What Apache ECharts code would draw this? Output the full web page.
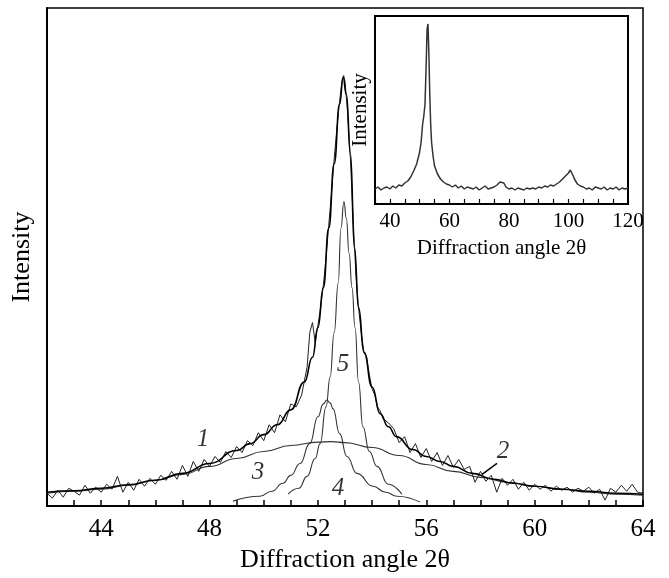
<!DOCTYPE html>
<html>
<head>
<meta charset="utf-8">
<title>Diffraction profile</title>
<script src="https://cdn.jsdelivr.net/npm/echarts@6/dist/echarts.min.js"></script>
<style>
html, body { margin: 0; padding: 0; background: #fff; }
#chart { width: 669px; height: 578px; }
</style>
</head>
<body>
<div id="chart"></div>
<script>
// measured profile (curve 1)
var expAngle = [
  42.0,42.2,42.4,42.6,42.8,43.0,43.2,43.4,43.6,43.8,
  44.0,44.2,44.4,44.6,44.8,45.0,45.2,45.4,45.6,45.8,
  46.0,46.2,46.4,46.6,46.8,47.0,47.2,47.4,47.6,47.8,
  48.0,48.2,48.4,48.6,48.8,49.0,49.2,49.4,49.6,49.8,
  50.0,50.2,50.4,50.6,50.8,51.0,51.2,
  51.4,51.6,51.7,51.8,51.9,52.0,52.1,52.2,52.3,52.4,52.5,52.6,52.7,52.8,52.9,52.95,
  53.0,53.1,53.2,53.3,53.4,53.5,53.6,53.7,53.8,53.9,54.0,54.1,54.2,54.3,54.4,54.6,
  54.8,55.0,55.2,55.4,55.6,55.8,56.0,56.2,56.4,56.6,
  56.8,57.0,57.2,57.4,57.6,57.8,58.0,58.2,58.4,58.6,
  58.8,59.0,59.2,59.4,59.6,59.8,60.0,60.2,60.4,60.6,
  60.8,61.0,61.2,61.4,61.6,61.8,62.0,62.2,62.4,62.6,
  62.8,63.0,63.2,63.4,63.6,63.8,64.0
];
var expCounts = [
  13,8,16,9,18,15,11,21,13,19,
  14,22,17,30,14,24,16,27,20,28,
  22,31,26,35,27,41,30,45,35,47,
  40,50,44,55,49,60,54,66,61,74,
  66,82,74,92,85,103,100,
  112,140,175,185,165,182,200,222,250,283,315,350,380,408,430,434,
  428,395,350,290,235,200,175,155,150,132,118,112,100,96,88,84,
  78,64,70,54,63,49,58,45,54,41,
  51,39,47,37,40,24,35,25,31,14,
  28,21,27,17,24,16,22,17,21,15,
  20,16,19,14,18,15,19,13,17,6,
  18,14,21,15,22,14,13
];

// total fit (curve 2)
var fitAngle = [42,43,44,45,46,47,48,49,49.5,50,50.5,51,51.5,51.8,52.0,52.2,52.4,52.6,52.8,52.93,
  53.05,53.2,53.35,53.5,53.7,54.0,54.3,54.6,54.9,55.5,56,56.5,57,57.7,58.5,59.2,60,61,62,63,64];
var fitCounts = [14,15.5,18,21.5,26,33,43,56,63,72,82,97,125,150,180,220,280,345,405,432,
  415,355,260,200,155,120,93,80,70,57,50,45,40,33,27,23,20,17,15,13,12];

// broad component (curve 3)
var broadAngle = [42,43,44,45,46,47,48,49,50,51,52,52.5,53,54,55,56,57,58,59,60,61,62,63,64];
var broadCounts = [13,15,17,21,26,32,40,48,55,61,64.5,65,64,59,51,42,35,29,24,20,17,14,12,11];

// narrow component (curve 4)
var peakAAngle = [48.87,49.86,50.3,50.71,51.0,51.34,51.7,52.0,52.2,52.33,52.45,52.56,52.8,53.07,53.44,54.03,54.5,54.92,55.77];
var peakACounts = [5,10,15,23,31,43,63,90,103,107,104,98,73,50,33,20,14,10,4];

// narrow component (curve 5)
var peakBAngle = [50.9,51.3,51.6,51.9,52.08,52.3,52.45,52.6,52.75,52.85,52.96,53.05,53.15,53.26,53.37,53.5,53.66,53.9,54.18,54.6,55.1];
var peakBCounts = [12,18,30,48,63,100,130,175,225,280,307,290,255,220,180,125,80,55,40,22,12];

// inset: full survey pattern
var surveyAngle = [35,36,37,38,39,40,41,42,43,44,45,46,47,48,49,50,
  50.5,51,51.4,51.8,52.2,52.5,52.8,53.1,53.4,53.7,54,54.5,55,
  56,57,58,59,60,61,62,63,64,65,66,67,68,69,70,71,72,73,74,75,76,77,
  77.6,78.3,
  79,80,81,82,83,84,85,86,87,88,89,90,91,92,93,94,95,96,97,98,99,100,
  100.6,101.1,101.6,
  102,103,104,105,106,107,108,109,110,111,112,113,114,115,116,117,118,119,120];
var surveyCounts = [15,17,14,16,17,15,18,16,19,18,21,23,27,33,40,52,
  62,80,88,100,140,175,180,150,110,80,62,48,38,
  30,25,22,20,19,17,19,16,18,15,17,16,15,17,14,16,18,15,16,17,19,22,
  24,21,
  17,15,16,14,16,15,14,16,15,16,15,17,16,18,17,19,18,20,22,25,28,31,
  34,33,28,
  25,20,18,17,15,16,14,17,16,15,17,14,16,15,17,14,16,15,16];

// curve numbers
var tagText = ['1', '2', '3', '4', '5'];
var tagAngle = [47.76, 58.83, 49.79, 52.74, 52.93];
var tagCounts = [67, 55, 34, 18, 143];
var arrowFrom = [58.61, 43];
var arrowTo = [58.06, 32];

var serif = '"Liberation Serif", "Times New Roman", serif';

function pairs(xs, ys) {
  var out = [];
  for (var i = 0; i < xs.length; i++) out.push([xs[i], ys[i]]);
  return out;
}

var tags = [];
for (var i = 0; i < tagText.length; i++) {
  tags.push({ value: [tagAngle[i], tagCounts[i]], name: tagText[i] });
}

var chart = echarts.init(document.getElementById('chart'));
chart.setOption({
  animation: false,
  backgroundColor: '#fff',
  grid: [
    { left: 47, top: 8, width: 596, height: 502, show: true, borderColor: '#000', borderWidth: 1.5 },
    { left: 375, top: 16, width: 253, height: 188, show: true, borderColor: '#000', borderWidth: 2, backgroundColor: '#fff' }
  ],
  xAxis: [
    {
      gridIndex: 0, type: 'value', min: 42, max: 64, interval: 1,
      axisLine: { lineStyle: { color: '#000', width: 2 } },
      axisTick: { inside: true, length: 6, lineStyle: { color: '#000', width: 1.5 } },
      axisLabel: {
        color: '#000', fontFamily: serif, fontSize: 25, margin: 11,
        formatter: function (v) { return v % 4 === 0 ? String(v) : ''; }
      },
      splitLine: { show: false },
      name: 'Diffraction angle 2θ', nameLocation: 'middle', nameGap: 31,
      nameTextStyle: { color: '#000', fontFamily: serif, fontSize: 26 }
    },
    {
      gridIndex: 1, type: 'value', min: 35, max: 120, interval: 5,
      axisLine: { lineStyle: { color: '#000', width: 2 } },
      axisTick: { inside: true, length: 5, lineStyle: { color: '#000', width: 1.2 } },
      axisLabel: {
        color: '#000', fontFamily: serif, fontSize: 21, margin: 7,
        formatter: function (v) { return v % 20 === 0 ? String(v) : ''; }
      },
      splitLine: { show: false },
      name: 'Diffraction angle 2θ', nameLocation: 'middle', nameGap: 34,
      nameTextStyle: { color: '#000', fontFamily: serif, fontSize: 21 }
    }
  ],
  yAxis: [
    {
      gridIndex: 0, type: 'value', min: 0, max: 502,
      axisLine: { show: true, lineStyle: { color: '#000', width: 2 } },
      axisTick: { show: false }, axisLabel: { show: false }, splitLine: { show: false },
      name: 'Intensity', nameLocation: 'middle', nameGap: 12, nameRotate: 90,
      nameTextStyle: { color: '#000', fontFamily: serif, fontSize: 26 }
    },
    {
      gridIndex: 1, type: 'value', min: 0, max: 188,
      axisLine: { show: true, lineStyle: { color: '#000', width: 2 } },
      axisTick: { show: false }, axisLabel: { show: false }, splitLine: { show: false },
      name: 'Intensity', nameLocation: 'middle', nameGap: 4, nameRotate: 90,
      nameTextStyle: { color: '#000', fontFamily: serif, fontSize: 21 }
    }
  ],
  series: [
    {
      name: 'broad', type: 'line', data: pairs(broadAngle, broadCounts),
      smooth: true, smoothMonotone: 'x', symbol: 'none',
      lineStyle: { color: '#333', width: 1.1 }
    },
    {
      name: 'peak A', type: 'line', data: pairs(peakAAngle, peakACounts),
      smooth: true, smoothMonotone: 'x', symbol: 'none',
      lineStyle: { color: '#333', width: 1.1 }
    },
    {
      name: 'peak B', type: 'line', data: pairs(peakBAngle, peakBCounts),
      smooth: true, smoothMonotone: 'x', symbol: 'none',
      lineStyle: { color: '#333', width: 1.1 }
    },
    {
      name: 'measured', type: 'line', data: pairs(expAngle, expCounts),
      symbol: 'none', lineStyle: { color: '#222', width: 1 }
    },
    {
      name: 'fit', type: 'line', data: pairs(fitAngle, fitCounts),
      smooth: true, smoothMonotone: 'x', symbol: 'none',
      lineStyle: { color: '#000', width: 1.6 }
    },
    {
      name: 'tags', type: 'scatter', data: tags, symbolSize: 0,
      label: {
        show: true, position: 'inside', formatter: '{b}',
        color: '#000', fontFamily: serif, fontSize: 25, fontStyle: 'italic'
      },
      markLine: {
        silent: true, symbol: ['none', 'arrow'], symbolSize: [0, 10],
        label: { show: false },
        lineStyle: { color: '#000', width: 1.5, type: 'solid' },
        data: [[{ coord: arrowFrom }, { coord: arrowTo }]]
      }
    },
    {
      name: 'survey', type: 'line', xAxisIndex: 1, yAxisIndex: 1,
      data: pairs(surveyAngle, surveyCounts),
      symbol: 'none', lineStyle: { color: '#333', width: 1.5 }
    }
  ]
});
</script>
</body>
</html>
